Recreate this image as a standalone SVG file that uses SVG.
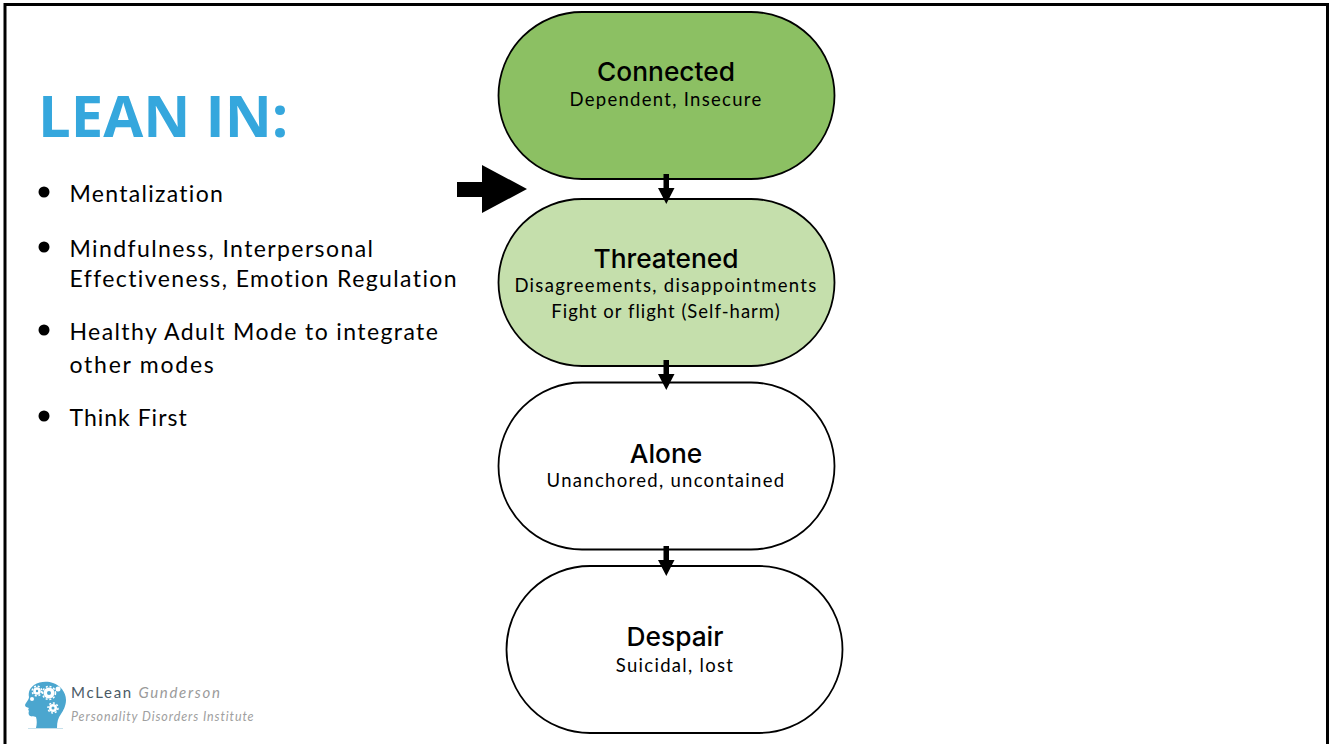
<svg xmlns="http://www.w3.org/2000/svg" width="1329" height="744" viewBox="0 0 1329 744">
<style>
.pill{stroke:#000;stroke-width:1.8}
.t{font-family:"Inter","Liberation Sans",sans-serif;font-weight:500;fill:#000;text-anchor:middle;font-size:26.300px}
.s{font-family:"Lato","Noto Sans",sans-serif;fill:#000;text-anchor:middle;font-size:18.500px;letter-spacing:1.300px}
.b{font-family:"Lato","Noto Sans",sans-serif;fill:#000;font-size:23px;letter-spacing:1.400px}
.g{fill:#fff}
.gt{fill:none;stroke:#fff;stroke-width:1.500;stroke-dasharray:2 1.800}
.h{fill:#4ba6cf}
</style>
<rect width="1329" height="744" fill="#fff"/>
<path d="M5 744V4.500H1327.500V744" fill="none" stroke="#000" stroke-width="3"/>
<text x="38" y="136.500" font-family="Open Sans,Noto Sans,sans-serif" font-weight="700" font-size="58" fill="#35a7dd">LEAN IN:</text>
<g id="bullets">
<circle cx="44" cy="192" r="5.500"/><text class="b" x="69.500" y="201.500" letter-spacing="1.300" style="letter-spacing:1.300px">Mentalization</text>
<circle cx="44" cy="247" r="5.500"/><text class="b" x="69.500" y="256.500">Mindfulness, Interpersonal</text><text class="b" x="69.500" y="286.500">Effectiveness, Emotion Regulation</text>
<circle cx="44" cy="330" r="5.500"/><text class="b" x="69.500" y="339.500">Healthy Adult Mode to integrate</text><text class="b" x="69.500" y="372.500" style="letter-spacing:1.750px">other modes</text>
<circle cx="44" cy="416" r="5.500"/><text class="b" x="69.500" y="425.500" style="letter-spacing:1px">Think First</text>
</g>
<g id="connected"><rect class="pill" x="498.500" y="12" width="336" height="167" rx="83.500" fill="#8cc063"/><text class="t" x="666" y="81">Connected</text><text class="s" x="666" y="106">Dependent, Insecure</text></g>
<g id="threatened"><rect class="pill" x="498.500" y="199" width="336" height="167" rx="83.500" fill="#c5dfac"/><text class="t" x="666" y="268">Threatened</text><text class="s" x="666" y="292">Disagreements, disappointments</text><text class="s" x="666" y="318" style="letter-spacing:1px">Fight or flight (Self-harm)</text></g>
<g id="alone"><rect class="pill" x="498.500" y="382.500" width="336" height="167" rx="83.500" fill="#fff"/><text class="t" x="666" y="463">Alone</text><text class="s" x="666" y="487">Unanchored, uncontained</text></g>
<g id="despair"><rect class="pill" x="506.500" y="566" width="336" height="167" rx="83.500" fill="#fff"/><text class="t" x="675" y="646">Despair</text><text class="s" x="675" y="672">Suicidal, lost</text></g>
<g id="connectors">
<path d="M663.500 174h5.500v14h5.500l-8.200 16l-8.300-16h5.500z"/>
<path d="M663.500 360h5.500v14h5.500l-8.200 16l-8.300-16h5.500z"/>
<path d="M663.500 546h5.500v14h5.500l-8.200 16l-8.300-16h5.500z"/>
<path d="M457 182h25v-17l45 24l-45 24v-16h-25z"/>
</g>
<g id="logo">
<path class="h" d="M36 728c1-4 1-8 0-11c-2-1-6 0-7-2c-1-2 0-4 0-4c-1-1-1-2 0-3c-2-1-4-1-4-3c1-3 4-5 4-8c-1-5 1-9 5-12c6-4 14-4 19-2c7 2 13 9 13 17c0 6-3 11-5 14c-3 4-4 8-4 14z"/>
<rect x="28" y="728" width="35" height="1" fill="#c7e0eb"/>
<circle class="g" cx="37" cy="691" r="3.800"/><circle class="gt" cx="37" cy="691" r="4.800"/><circle cx="37" cy="691" r="1.200" class="h"/>
<circle class="g" cx="49" cy="693" r="5.500"/><circle class="gt" cx="49" cy="693" r="6.500"/><circle cx="49" cy="693" r="2" class="h"/>
<circle class="g" cx="53" cy="708" r="4"/><circle class="gt" cx="53" cy="708" r="5"/><circle cx="53" cy="708" r="1.500" class="h"/>
<circle class="g" cx="58" cy="689" r="2.500"/><circle class="g" cx="32" cy="699" r="2"/>
<text x="71" y="698" font-family="Lato,Noto Sans,sans-serif" font-size="15" letter-spacing="1.700" fill="#4a5a66">McLean <tspan font-style="italic" fill="#9a9a9a">Gunderson</tspan></text>
<text x="71" y="721" font-family="Lato,Noto Sans,sans-serif" font-style="italic" font-size="12.500" letter-spacing=".9" fill="#a0a0a0">Personality Disorders Institute</text>
</g>
</svg>
